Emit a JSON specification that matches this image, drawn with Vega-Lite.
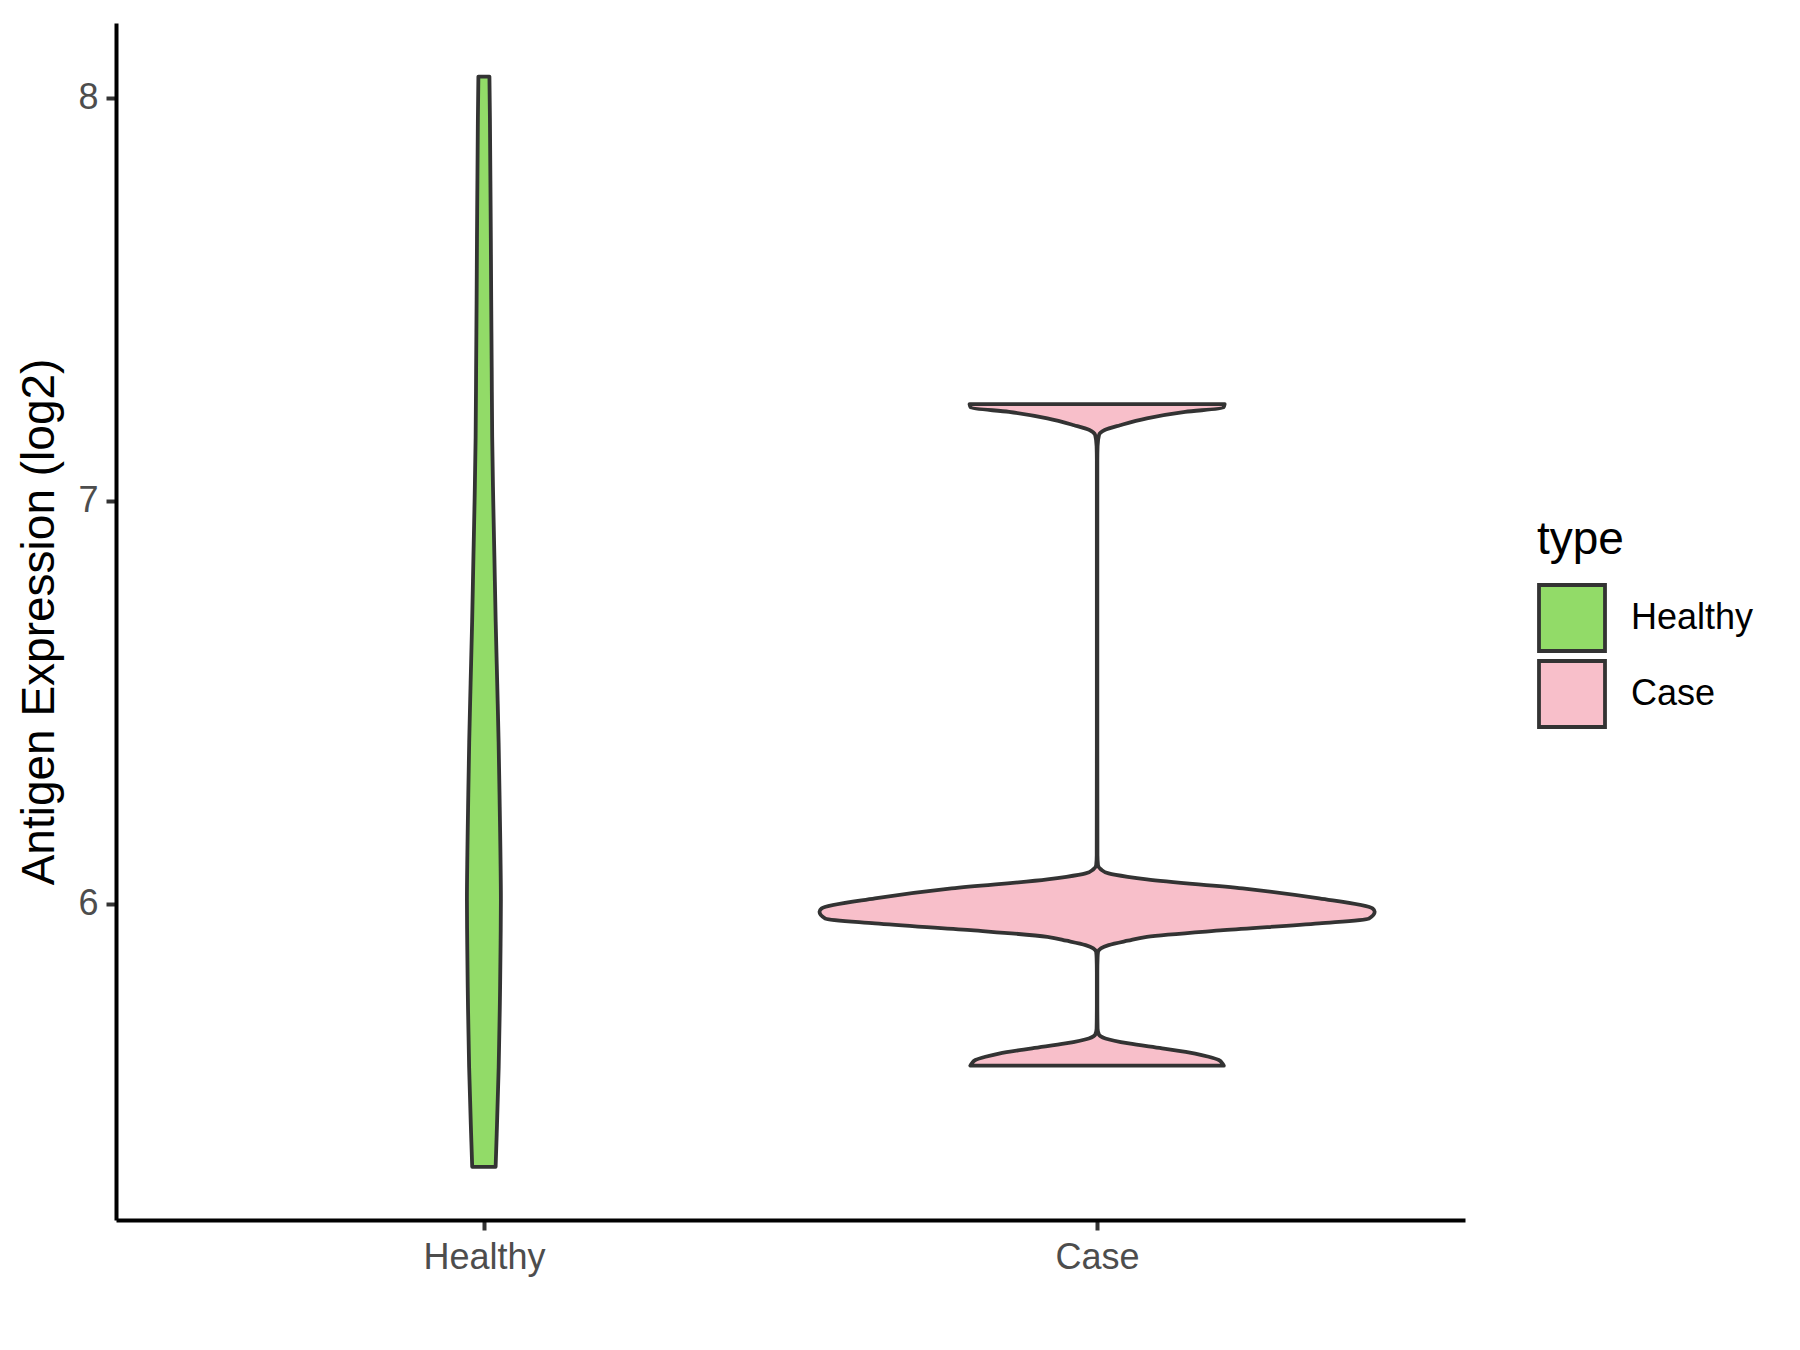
{
  "$schema": "https://vega.github.io/schema/vega-lite/v6.json",
  "width": 1349,
  "height": 1197,
  "autosize": {"type": "none"},
  "padding": {"left": 116, "top": 23, "right": 335, "bottom": 130},
  "background": "white",
  "config": {"view": {"stroke": null}, "font": "Liberation Sans"},
  "data": {
    "values": [
      {"type": "Healthy", "value": 5.347, "half": 0.0191},
      {"type": "Healthy", "value": 5.43, "half": 0.0209},
      {"type": "Healthy", "value": 5.594, "half": 0.0241},
      {"type": "Healthy", "value": 5.761, "half": 0.0261},
      {"type": "Healthy", "value": 5.9, "half": 0.0272},
      {"type": "Healthy", "value": 6.009, "half": 0.0277},
      {"type": "Healthy", "value": 6.12, "half": 0.027},
      {"type": "Healthy", "value": 6.24, "half": 0.0258},
      {"type": "Healthy", "value": 6.4, "half": 0.024},
      {"type": "Healthy", "value": 6.547, "half": 0.0217},
      {"type": "Healthy", "value": 6.7, "half": 0.0192},
      {"type": "Healthy", "value": 6.86, "half": 0.0171},
      {"type": "Healthy", "value": 7.0, "half": 0.0152},
      {"type": "Healthy", "value": 7.158, "half": 0.0135},
      {"type": "Healthy", "value": 7.33, "half": 0.0127},
      {"type": "Healthy", "value": 7.498, "half": 0.0119},
      {"type": "Healthy", "value": 7.65, "half": 0.0113},
      {"type": "Healthy", "value": 7.795, "half": 0.0106},
      {"type": "Healthy", "value": 7.95, "half": 0.0098},
      {"type": "Healthy", "value": 8.052, "half": 0.009},
      {"type": "Case", "value": 5.598, "half": 0.2067},
      {"type": "Case", "value": 5.604, "half": 0.204},
      {"type": "Case", "value": 5.612, "half": 0.1985},
      {"type": "Case", "value": 5.62, "half": 0.182},
      {"type": "Case", "value": 5.628, "half": 0.16},
      {"type": "Case", "value": 5.641, "half": 0.106},
      {"type": "Case", "value": 5.653, "half": 0.0517},
      {"type": "Case", "value": 5.6655, "half": 0.0136},
      {"type": "Case", "value": 5.675, "half": 0.003},
      {"type": "Case", "value": 5.69, "half": 0.0008},
      {"type": "Case", "value": 5.75, "half": 0.0004},
      {"type": "Case", "value": 5.83, "half": 0.0004},
      {"type": "Case", "value": 5.865, "half": 0.0008},
      {"type": "Case", "value": 5.88, "half": 0.0015},
      {"type": "Case", "value": 5.889, "half": 0.0062},
      {"type": "Case", "value": 5.897, "half": 0.0188},
      {"type": "Case", "value": 5.908, "half": 0.05},
      {"type": "Case", "value": 5.9176, "half": 0.0811},
      {"type": "Case", "value": 5.934, "half": 0.206},
      {"type": "Case", "value": 5.951, "half": 0.3622},
      {"type": "Case", "value": 5.963, "half": 0.4432},
      {"type": "Case", "value": 5.9797, "half": 0.4527},
      {"type": "Case", "value": 5.988, "half": 0.4494},
      {"type": "Case", "value": 6.0129, "half": 0.3622},
      {"type": "Case", "value": 6.0377, "half": 0.2372},
      {"type": "Case", "value": 6.06, "half": 0.0811},
      {"type": "Case", "value": 6.0665, "half": 0.05},
      {"type": "Case", "value": 6.075, "half": 0.0188},
      {"type": "Case", "value": 6.085, "half": 0.0062},
      {"type": "Case", "value": 6.0955, "half": 0.0015},
      {"type": "Case", "value": 6.12, "half": 0.0006},
      {"type": "Case", "value": 6.4, "half": 0.0004},
      {"type": "Case", "value": 6.8, "half": 0.0004},
      {"type": "Case", "value": 7.1, "half": 0.0004},
      {"type": "Case", "value": 7.135, "half": 0.0008},
      {"type": "Case", "value": 7.1625, "half": 0.0031},
      {"type": "Case", "value": 7.175, "half": 0.0124},
      {"type": "Case", "value": 7.187, "half": 0.0375},
      {"type": "Case", "value": 7.204, "half": 0.0811},
      {"type": "Case", "value": 7.22, "half": 0.1436},
      {"type": "Case", "value": 7.231, "half": 0.206},
      {"type": "Case", "value": 7.2394, "half": 0.208}
    ]
  },
  "transform": [
    {"calculate": "(datum.type === 'Healthy' ? 1 : 2) - datum.half", "as": "lo"},
    {"calculate": "(datum.type === 'Healthy' ? 1 : 2) + datum.half", "as": "hi"}
  ],
  "mark": {
    "type": "area",
    "orient": "horizontal",
    "interpolate": "monotone",
    "stroke": "#333333",
    "strokeWidth": 3.8,
    "strokeJoin": "round",
    "opacity": 1,
    "fillOpacity": 1
  },
  "encoding": {
    "y": {
      "field": "value",
      "type": "quantitative",
      "scale": {"domain": [5.215, 8.185], "nice": false, "zero": false},
      "axis": {
        "values": [6, 7, 8],
        "title": "Antigen Expression (log2)",
        "titleFont": "Liberation Sans",
        "titleFontSize": 46,
        "titleFontWeight": "normal",
        "titleColor": "black",
        "titlePadding": 14,
        "labelFont": "Liberation Sans",
        "labelFontSize": 36,
        "labelColor": "#4D4D4D",
        "labelPadding": 8,
        "tickSize": 10,
        "tickWidth": 4,
        "tickColor": "#333333",
        "domainColor": "black",
        "domainWidth": 4,
        "grid": false
      }
    },
    "x": {
      "field": "lo",
      "type": "quantitative",
      "scale": {"domain": [0.4, 2.6], "nice": false, "zero": false},
      "axis": {
        "values": [1, 2],
        "labelExpr": "datum.value == 1 ? 'Healthy' : 'Case'",
        "title": null,
        "labelFont": "Liberation Sans",
        "labelFontSize": 36,
        "labelColor": "#4D4D4D",
        "labelPadding": 10,
        "labelFlush": false,
        "tickSize": 10,
        "tickWidth": 4,
        "tickColor": "#333333",
        "domainColor": "black",
        "domainWidth": 4,
        "grid": false
      }
    },
    "x2": {"field": "hi"},
    "color": {
      "field": "type",
      "type": "nominal",
      "scale": {"domain": ["Healthy", "Case"], "range": ["#92DB68", "#F8BFCA"]},
      "legend": {
        "orient": "none",
        "legendX": 1421,
        "legendY": 495,
        "title": "type",
        "titleFont": "Liberation Sans",
        "titleFontSize": 46,
        "titleFontWeight": "normal",
        "titleColor": "black",
        "titlePadding": 19,
        "labelFont": "Liberation Sans",
        "labelFontSize": 36,
        "labelColor": "black",
        "labelOffset": 24,
        "symbolType": "square",
        "symbolSize": 4356,
        "symbolStrokeColor": "#333333",
        "symbolStrokeWidth": 3.8,
        "symbolFillOpacity": 1,
        "symbolOpacity": 1,
        "rowPadding": -12,
        "padding": 0
      }
    }
  }
}
